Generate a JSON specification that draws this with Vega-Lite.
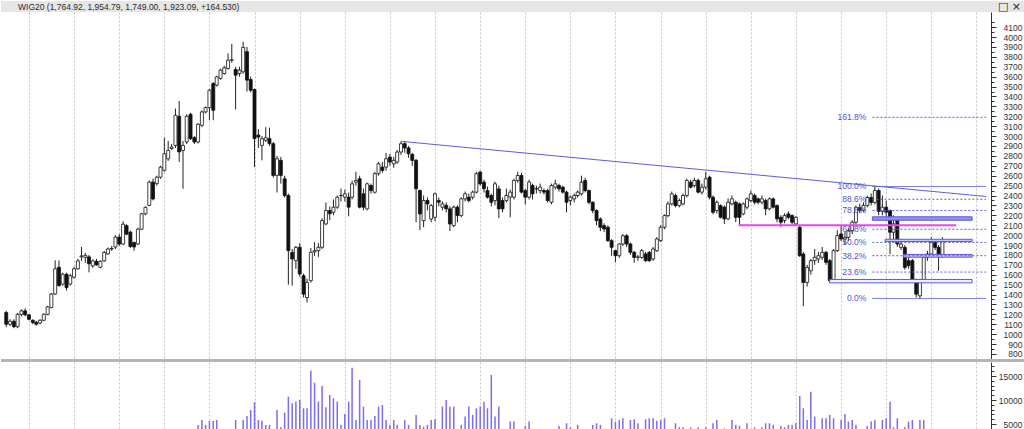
{
  "$schema": "https://vega.github.io/schema/vega-lite/v6.json",
  "padding": 0,
  "background": "white",
  "spacing": 0,
  "bounds": "flush",
  "config": {"view": {"stroke": null}, "font": "Liberation Sans", "axis": {"labelOverlap": false}},
  "datasets": {
    "wig": [
      {"d":"2002-07-01","o":1218,"h":1235,"l":1070,"c":1100,"v":1400},
      {"d":"2002-08-01","o":1100,"h":1150,"l":1080,"c":1130,"v":1300},
      {"d":"2002-09-01","o":1130,"h":1150,"l":1060,"c":1075,"v":1500},
      {"d":"2002-10-01","o":1075,"h":1215,"l":1060,"c":1200,"v":1700},
      {"d":"2002-11-01","o":1200,"h":1250,"l":1180,"c":1235,"v":1600},
      {"d":"2002-12-01","o":1235,"h":1260,"l":1180,"c":1195,"v":1400},
      {"d":"2003-01-01","o":1195,"h":1200,"l":1140,"c":1150,"v":1500},
      {"d":"2003-02-01","o":1140,"h":1150,"l":1100,"c":1118,"v":1300},
      {"d":"2003-03-01","o":1120,"h":1135,"l":1085,"c":1100,"v":1400},
      {"d":"2003-04-01","o":1113,"h":1150,"l":1100,"c":1140,"v":1600},
      {"d":"2003-05-01","o":1140,"h":1210,"l":1130,"c":1200,"v":1800},
      {"d":"2003-06-01","o":1200,"h":1285,"l":1190,"c":1275,"v":1900},
      {"d":"2003-07-01","o":1270,"h":1415,"l":1260,"c":1405,"v":2200},
      {"d":"2003-08-01","o":1405,"h":1745,"l":1395,"c":1660,"v":2600},
      {"d":"2003-09-01","o":1675,"h":1745,"l":1480,"c":1490,"v":2500},
      {"d":"2003-10-01","o":1505,"h":1620,"l":1490,"c":1605,"v":2300},
      {"d":"2003-11-01","o":1605,"h":1620,"l":1440,"c":1470,"v":2400},
      {"d":"2003-12-01","o":1505,"h":1610,"l":1490,"c":1590,"v":2000},
      {"d":"2004-01-01","o":1575,"h":1680,"l":1560,"c":1660,"v":2600},
      {"d":"2004-02-01","o":1660,"h":1760,"l":1650,"c":1740,"v":2700},
      {"d":"2004-03-01","o":1780,"h":1880,"l":1740,"c":1790,"v":2900},
      {"d":"2004-04-01","o":1775,"h":1820,"l":1720,"c":1795,"v":2500},
      {"d":"2004-05-01","o":1780,"h":1800,"l":1624,"c":1710,"v":2400},
      {"d":"2004-06-01","o":1690,"h":1755,"l":1670,"c":1740,"v":2100},
      {"d":"2004-07-01","o":1735,"h":1760,"l":1690,"c":1700,"v":2000},
      {"d":"2004-08-01","o":1675,"h":1745,"l":1665,"c":1735,"v":2100},
      {"d":"2004-09-01","o":1740,"h":1840,"l":1730,"c":1825,"v":2300},
      {"d":"2004-10-01","o":1810,"h":1875,"l":1800,"c":1860,"v":2400},
      {"d":"2004-11-01","o":1860,"h":1890,"l":1840,"c":1865,"v":2500},
      {"d":"2004-12-01","o":1880,"h":2000,"l":1860,"c":1980,"v":2300},
      {"d":"2005-01-01","o":1980,"h":2010,"l":1890,"c":1910,"v":2800},
      {"d":"2005-02-01","o":1910,"h":2140,"l":1900,"c":2110,"v":3000},
      {"d":"2005-03-01","o":2095,"h":2110,"l":2000,"c":2010,"v":2700},
      {"d":"2005-04-01","o":2030,"h":2045,"l":1870,"c":1885,"v":2600},
      {"d":"2005-05-01","o":1925,"h":1935,"l":1843,"c":1880,"v":2400},
      {"d":"2005-06-01","o":1910,"h":2075,"l":1900,"c":2060,"v":2500},
      {"d":"2005-07-01","o":2060,"h":2225,"l":2050,"c":2215,"v":2700},
      {"d":"2005-08-01","o":2215,"h":2290,"l":2200,"c":2280,"v":2600},
      {"d":"2005-09-01","o":2300,"h":2550,"l":2290,"c":2535,"v":3200},
      {"d":"2005-10-01","o":2535,"h":2570,"l":2350,"c":2365,"v":3400},
      {"d":"2005-11-01","o":2520,"h":2600,"l":2500,"c":2585,"v":2900},
      {"d":"2005-12-01","o":2585,"h":2700,"l":2570,"c":2687,"v":3000},
      {"d":"2006-01-01","o":2655,"h":2984,"l":2640,"c":2822,"v":3600},
      {"d":"2006-02-01","o":2770,"h":2950,"l":2750,"c":2855,"v":3300},
      {"d":"2006-03-01","o":2875,"h":2920,"l":2860,"c":2890,"v":3100},
      {"d":"2006-04-01","o":2906,"h":3278,"l":2880,"c":3210,"v":3500},
      {"d":"2006-05-01","o":3200,"h":3355,"l":2738,"c":2840,"v":3900},
      {"d":"2006-06-01","o":2855,"h":2950,"l":2468,"c":2906,"v":3700},
      {"d":"2006-07-01","o":2940,"h":3220,"l":2920,"c":3200,"v":3200},
      {"d":"2006-08-01","o":3220,"h":3235,"l":2960,"c":2974,"v":3400},
      {"d":"2006-09-01","o":2984,"h":3000,"l":2920,"c":2940,"v":3300},
      {"d":"2006-10-01","o":2940,"h":3130,"l":2925,"c":3119,"v":4800},
      {"d":"2006-11-01","o":3109,"h":3260,"l":3090,"c":3244,"v":5840},
      {"d":"2006-12-01","o":3244,"h":3300,"l":3230,"c":3288,"v":4800},
      {"d":"2007-01-01","o":3288,"h":3475,"l":3160,"c":3463,"v":5630},
      {"d":"2007-02-01","o":3531,"h":3545,"l":3160,"c":3261,"v":5630},
      {"d":"2007-03-01","o":3514,"h":3610,"l":3500,"c":3598,"v":5840},
      {"d":"2007-04-01","o":3582,"h":3680,"l":3570,"c":3666,"v":3500},
      {"d":"2007-05-01","o":3632,"h":3710,"l":3620,"c":3690,"v":3200},
      {"d":"2007-06-01","o":3683,"h":3835,"l":3670,"c":3767,"v":3800},
      {"d":"2007-07-01","o":3767,"h":3930,"l":3740,"c":3770,"v":3600},
      {"d":"2007-08-01","o":3673,"h":3700,"l":3268,"c":3615,"v":5840},
      {"d":"2007-09-01","o":3632,"h":3700,"l":3600,"c":3666,"v":3900},
      {"d":"2007-10-01","o":3649,"h":3953,"l":3630,"c":3895,"v":5840},
      {"d":"2007-11-01","o":3852,"h":3900,"l":3450,"c":3565,"v":6670},
      {"d":"2007-12-01","o":3571,"h":3600,"l":3440,"c":3463,"v":7930},
      {"d":"2008-01-01","o":3470,"h":3480,"l":2687,"c":2974,"v":9520},
      {"d":"2008-02-01","o":3010,"h":3070,"l":2880,"c":2990,"v":5840},
      {"d":"2008-03-01","o":2906,"h":3000,"l":2755,"c":2974,"v":5700},
      {"d":"2008-04-01","o":2958,"h":3090,"l":2940,"c":2984,"v":4800},
      {"d":"2008-05-01","o":2974,"h":3085,"l":2900,"c":2924,"v":4800},
      {"d":"2008-06-01","o":2923,"h":2940,"l":2580,"c":2603,"v":3900},
      {"d":"2008-07-01","o":2603,"h":2800,"l":2430,"c":2771,"v":7930},
      {"d":"2008-08-01","o":2755,"h":2790,"l":2520,"c":2603,"v":4320},
      {"d":"2008-09-01","o":2569,"h":2600,"l":2380,"c":2400,"v":7370},
      {"d":"2008-10-01","o":2400,"h":2420,"l":1500,"c":1843,"v":10700},
      {"d":"2008-11-01","o":1826,"h":1860,"l":1490,"c":1759,"v":9310},
      {"d":"2008-12-01","o":1742,"h":1890,"l":1660,"c":1877,"v":9700},
      {"d":"2009-01-01","o":1877,"h":1920,"l":1580,"c":1607,"v":10000},
      {"d":"2009-02-01","o":1590,"h":1610,"l":1370,"c":1404,"v":8270},
      {"d":"2009-03-01","o":1370,"h":1560,"l":1320,"c":1522,"v":8270},
      {"d":"2009-04-01","o":1540,"h":1870,"l":1520,"c":1826,"v":16100},
      {"d":"2009-05-01","o":1830,"h":1930,"l":1790,"c":1843,"v":13600},
      {"d":"2009-06-01","o":1843,"h":1920,"l":1780,"c":1877,"v":9660},
      {"d":"2009-07-01","o":1877,"h":2170,"l":1860,"c":2147,"v":12900},
      {"d":"2009-08-01","o":2113,"h":2330,"l":2100,"c":2248,"v":8480},
      {"d":"2009-09-01","o":2248,"h":2290,"l":2150,"c":2215,"v":11050},
      {"d":"2009-10-01","o":2231,"h":2360,"l":2200,"c":2282,"v":10350},
      {"d":"2009-11-01","o":2282,"h":2400,"l":2265,"c":2383,"v":9660},
      {"d":"2009-12-01","o":2400,"h":2470,"l":2340,"c":2400,"v":4800},
      {"d":"2010-01-01","o":2383,"h":2460,"l":2340,"c":2417,"v":7100},
      {"d":"2010-02-01","o":2383,"h":2430,"l":2190,"c":2282,"v":9660},
      {"d":"2010-03-01","o":2383,"h":2550,"l":2360,"c":2518,"v":16740},
      {"d":"2010-04-01","o":2535,"h":2640,"l":2500,"c":2552,"v":5840},
      {"d":"2010-05-01","o":2569,"h":2600,"l":2270,"c":2282,"v":14170},
      {"d":"2010-06-01","o":2417,"h":2470,"l":2250,"c":2282,"v":8620},
      {"d":"2010-07-01","o":2265,"h":2530,"l":2250,"c":2518,"v":5840},
      {"d":"2010-08-01","o":2501,"h":2520,"l":2420,"c":2450,"v":5840},
      {"d":"2010-09-01","o":2433,"h":2640,"l":2420,"c":2620,"v":6670},
      {"d":"2010-10-01","o":2620,"h":2740,"l":2600,"c":2720,"v":8620},
      {"d":"2010-11-01","o":2687,"h":2740,"l":2630,"c":2653,"v":8970},
      {"d":"2010-12-01","o":2687,"h":2830,"l":2650,"c":2771,"v":5840},
      {"d":"2011-01-01","o":2788,"h":2820,"l":2700,"c":2738,"v":4800},
      {"d":"2011-02-01","o":2720,"h":2790,"l":2680,"c":2755,"v":5840},
      {"d":"2011-03-01","o":2738,"h":2860,"l":2720,"c":2839,"v":4800},
      {"d":"2011-04-01","o":2839,"h":2947,"l":2810,"c":2923,"v":3900},
      {"d":"2011-05-01","o":2923,"h":2945,"l":2830,"c":2880,"v":5840},
      {"d":"2011-06-01","o":2880,"h":2900,"l":2780,"c":2822,"v":4800},
      {"d":"2011-07-01","o":2815,"h":2830,"l":2700,"c":2755,"v":3800},
      {"d":"2011-08-01","o":2755,"h":2770,"l":2130,"c":2468,"v":6890},
      {"d":"2011-09-01","o":2450,"h":2460,"l":2050,"c":2214,"v":4800},
      {"d":"2011-10-01","o":2146,"h":2400,"l":2080,"c":2349,"v":4460},
      {"d":"2011-11-01","o":2350,"h":2380,"l":2250,"c":2315,"v":4800},
      {"d":"2011-12-01","o":2163,"h":2315,"l":2130,"c":2298,"v":5840},
      {"d":"2012-01-01","o":2180,"h":2430,"l":2140,"c":2417,"v":5980},
      {"d":"2012-02-01","o":2350,"h":2380,"l":2290,"c":2332,"v":3900},
      {"d":"2012-03-01","o":2282,"h":2340,"l":2250,"c":2315,"v":8620},
      {"d":"2012-04-01","o":2300,"h":2330,"l":2230,"c":2265,"v":10000},
      {"d":"2012-05-01","o":2265,"h":2290,"l":2040,"c":2113,"v":8620},
      {"d":"2012-06-01","o":2096,"h":2300,"l":2080,"c":2282,"v":8620},
      {"d":"2012-07-01","o":2282,"h":2300,"l":2130,"c":2198,"v":3800},
      {"d":"2012-08-01","o":2197,"h":2380,"l":2180,"c":2366,"v":4800},
      {"d":"2012-09-01","o":2366,"h":2440,"l":2340,"c":2417,"v":6540},
      {"d":"2012-10-01","o":2383,"h":2420,"l":2330,"c":2349,"v":8620},
      {"d":"2012-11-01","o":2383,"h":2450,"l":2360,"c":2434,"v":6890},
      {"d":"2012-12-01","o":2434,"h":2640,"l":2420,"c":2620,"v":8270},
      {"d":"2013-01-01","o":2636,"h":2650,"l":2500,"c":2518,"v":8620},
      {"d":"2013-02-01","o":2535,"h":2560,"l":2430,"c":2468,"v":9660},
      {"d":"2013-03-01","o":2450,"h":2490,"l":2370,"c":2383,"v":8270},
      {"d":"2013-04-01","o":2400,"h":2420,"l":2290,"c":2332,"v":15210},
      {"d":"2013-05-01","o":2349,"h":2540,"l":2300,"c":2518,"v":6540},
      {"d":"2013-06-01","o":2467,"h":2500,"l":2170,"c":2265,"v":8620},
      {"d":"2013-07-01","o":2349,"h":2380,"l":2230,"c":2265,"v":3800},
      {"d":"2013-08-01","o":2349,"h":2470,"l":2330,"c":2400,"v":3600},
      {"d":"2013-09-01","o":2383,"h":2460,"l":2180,"c":2434,"v":5500},
      {"d":"2013-10-01","o":2383,"h":2570,"l":2360,"c":2552,"v":5500},
      {"d":"2013-11-01","o":2552,"h":2640,"l":2530,"c":2602,"v":3500},
      {"d":"2013-12-01","o":2602,"h":2630,"l":2420,"c":2434,"v":3800},
      {"d":"2014-01-01","o":2450,"h":2470,"l":2310,"c":2383,"v":4600},
      {"d":"2014-02-01","o":2383,"h":2560,"l":2360,"c":2535,"v":5500},
      {"d":"2014-03-01","o":2501,"h":2520,"l":2360,"c":2417,"v":3600},
      {"d":"2014-04-01","o":2468,"h":2500,"l":2420,"c":2468,"v":3300},
      {"d":"2014-05-01","o":2450,"h":2520,"l":2420,"c":2484,"v":3200},
      {"d":"2014-06-01","o":2450,"h":2470,"l":2410,"c":2434,"v":3400},
      {"d":"2014-07-01","o":2450,"h":2470,"l":2330,"c":2349,"v":3500},
      {"d":"2014-08-01","o":2332,"h":2520,"l":2310,"c":2501,"v":3700},
      {"d":"2014-09-01","o":2484,"h":2560,"l":2460,"c":2518,"v":3600},
      {"d":"2014-10-01","o":2501,"h":2520,"l":2440,"c":2468,"v":4600},
      {"d":"2014-11-01","o":2484,"h":2500,"l":2420,"c":2434,"v":3600},
      {"d":"2014-12-01","o":2434,"h":2450,"l":2230,"c":2332,"v":5150},
      {"d":"2015-01-01","o":2349,"h":2400,"l":2300,"c":2383,"v":4320},
      {"d":"2015-02-01","o":2366,"h":2420,"l":2330,"c":2400,"v":3800},
      {"d":"2015-03-01","o":2400,"h":2450,"l":2380,"c":2434,"v":4800},
      {"d":"2015-04-01","o":2417,"h":2600,"l":2400,"c":2535,"v":3500},
      {"d":"2015-05-01","o":2552,"h":2580,"l":2430,"c":2450,"v":3600},
      {"d":"2015-06-01","o":2450,"h":2460,"l":2310,"c":2332,"v":3700},
      {"d":"2015-07-01","o":2332,"h":2340,"l":2220,"c":2248,"v":4800},
      {"d":"2015-08-01","o":2248,"h":2260,"l":2100,"c":2147,"v":5150},
      {"d":"2015-09-01","o":2163,"h":2180,"l":2040,"c":2079,"v":4800},
      {"d":"2015-10-01","o":2096,"h":2120,"l":2030,"c":2062,"v":3600},
      {"d":"2015-11-01","o":2079,"h":2100,"l":1930,"c":1944,"v":3900},
      {"d":"2015-12-01","o":1944,"h":1960,"l":1790,"c":1877,"v":6190},
      {"d":"2016-01-01","o":1843,"h":1850,"l":1725,"c":1792,"v":5500},
      {"d":"2016-02-01","o":1792,"h":1920,"l":1770,"c":1910,"v":5840},
      {"d":"2016-03-01","o":1910,"h":2010,"l":1890,"c":1994,"v":6190},
      {"d":"2016-04-01","o":1994,"h":2010,"l":1880,"c":1910,"v":3800},
      {"d":"2016-05-01","o":1910,"h":1925,"l":1800,"c":1826,"v":5840},
      {"d":"2016-06-01","o":1826,"h":1840,"l":1720,"c":1775,"v":5980},
      {"d":"2016-07-01","o":1775,"h":1800,"l":1740,"c":1780,"v":5150},
      {"d":"2016-08-01","o":1775,"h":1860,"l":1760,"c":1843,"v":3900},
      {"d":"2016-09-01","o":1810,"h":1830,"l":1730,"c":1742,"v":5980},
      {"d":"2016-10-01","o":1826,"h":1840,"l":1730,"c":1742,"v":6190},
      {"d":"2016-11-01","o":1759,"h":1880,"l":1740,"c":1860,"v":6190},
      {"d":"2016-12-01","o":1843,"h":1980,"l":1830,"c":1961,"v":5700},
      {"d":"2017-01-01","o":1944,"h":2100,"l":1930,"c":2079,"v":5840},
      {"d":"2017-02-01","o":2079,"h":2210,"l":2060,"c":2197,"v":6190},
      {"d":"2017-03-01","o":2197,"h":2340,"l":2180,"c":2315,"v":3800},
      {"d":"2017-04-01","o":2315,"h":2440,"l":2300,"c":2417,"v":3900},
      {"d":"2017-05-01","o":2400,"h":2420,"l":2280,"c":2298,"v":5150},
      {"d":"2017-06-01","o":2298,"h":2370,"l":2280,"c":2349,"v":4320},
      {"d":"2017-07-01","o":2315,"h":2420,"l":2300,"c":2400,"v":4320},
      {"d":"2017-08-01","o":2400,"h":2570,"l":2380,"c":2552,"v":3900},
      {"d":"2017-09-01","o":2535,"h":2560,"l":2470,"c":2484,"v":4320},
      {"d":"2017-10-01","o":2501,"h":2580,"l":2480,"c":2552,"v":3800},
      {"d":"2017-11-01","o":2552,"h":2570,"l":2420,"c":2434,"v":4320},
      {"d":"2017-12-01","o":2434,"h":2520,"l":2410,"c":2484,"v":3500},
      {"d":"2018-01-01","o":2484,"h":2640,"l":2460,"c":2569,"v":4320},
      {"d":"2018-02-01","o":2585,"h":2600,"l":2360,"c":2383,"v":3800},
      {"d":"2018-03-01","o":2383,"h":2400,"l":2210,"c":2231,"v":5150},
      {"d":"2018-04-01","o":2248,"h":2350,"l":2220,"c":2332,"v":5840},
      {"d":"2018-05-01","o":2298,"h":2310,"l":2170,"c":2180,"v":3600},
      {"d":"2018-06-01","o":2282,"h":2300,"l":2113,"c":2164,"v":4100},
      {"d":"2018-07-01","o":2164,"h":2370,"l":2150,"c":2332,"v":3800},
      {"d":"2018-08-01","o":2316,"h":2400,"l":2300,"c":2366,"v":5840},
      {"d":"2018-09-01","o":2332,"h":2350,"l":2130,"c":2180,"v":4800},
      {"d":"2018-10-01","o":2315,"h":2330,"l":2097,"c":2180,"v":4600},
      {"d":"2018-11-01","o":2214,"h":2330,"l":2200,"c":2315,"v":3900},
      {"d":"2018-12-01","o":2282,"h":2380,"l":2260,"c":2366,"v":5150},
      {"d":"2019-01-01","o":2349,"h":2450,"l":2330,"c":2417,"v":3800},
      {"d":"2019-02-01","o":2400,"h":2420,"l":2310,"c":2332,"v":4320},
      {"d":"2019-03-01","o":2366,"h":2380,"l":2310,"c":2332,"v":3800},
      {"d":"2019-04-01","o":2332,"h":2400,"l":2310,"c":2366,"v":4320},
      {"d":"2019-05-01","o":2349,"h":2370,"l":2200,"c":2265,"v":5150},
      {"d":"2019-06-01","o":2265,"h":2380,"l":2250,"c":2366,"v":5150},
      {"d":"2019-07-01","o":2366,"h":2380,"l":2270,"c":2282,"v":4800},
      {"d":"2019-08-01","o":2298,"h":2310,"l":2130,"c":2164,"v":3900},
      {"d":"2019-09-01","o":2180,"h":2200,"l":2080,"c":2130,"v":4600},
      {"d":"2019-10-01","o":2147,"h":2220,"l":2120,"c":2197,"v":4320},
      {"d":"2019-11-01","o":2214,"h":2240,"l":2160,"c":2180,"v":4800},
      {"d":"2019-12-01","o":2197,"h":2210,"l":2110,"c":2130,"v":4800},
      {"d":"2020-01-01","o":2113,"h":2190,"l":2090,"c":2180,"v":5150},
      {"d":"2020-02-01","o":2079,"h":2100,"l":1780,"c":1792,"v":10840},
      {"d":"2020-03-01","o":1809,"h":1830,"l":1282,"c":1522,"v":8270},
      {"d":"2020-04-01","o":1522,"h":1700,"l":1480,"c":1674,"v":5840},
      {"d":"2020-05-01","o":1640,"h":1760,"l":1600,"c":1742,"v":11740},
      {"d":"2020-06-01","o":1742,"h":1860,"l":1700,"c":1776,"v":6540},
      {"d":"2020-07-01","o":1759,"h":1830,"l":1720,"c":1792,"v":3900},
      {"d":"2020-08-01","o":1776,"h":1880,"l":1750,"c":1826,"v":6190},
      {"d":"2020-09-01","o":1826,"h":1840,"l":1700,"c":1725,"v":6190},
      {"d":"2020-10-01","o":1742,"h":1760,"l":1520,"c":1540,"v":6890},
      {"d":"2020-11-01","o":1540,"h":1860,"l":1530,"c":1843,"v":6190},
      {"d":"2020-12-01","o":1843,"h":2050,"l":1830,"c":1995,"v":3800},
      {"d":"2021-01-01","o":2012,"h":2100,"l":1940,"c":1961,"v":5840},
      {"d":"2021-02-01","o":1961,"h":2030,"l":1900,"c":1978,"v":7100},
      {"d":"2021-03-01","o":1978,"h":2070,"l":1940,"c":2046,"v":5500},
      {"d":"2021-04-01","o":2046,"h":2150,"l":2010,"c":2130,"v":5840},
      {"d":"2021-05-01","o":2130,"h":2300,"l":2110,"c":2280,"v":4800},
      {"d":"2021-06-01","o":2280,"h":2320,"l":2220,"c":2250,"v":3800},
      {"d":"2021-07-01","o":2250,"h":2330,"l":2230,"c":2300,"v":3700},
      {"d":"2021-08-01","o":2300,"h":2400,"l":2280,"c":2380,"v":4600},
      {"d":"2021-09-01","o":2380,"h":2420,"l":2300,"c":2330,"v":5500},
      {"d":"2021-10-01","o":2330,"h":2491,"l":2310,"c":2450,"v":5840},
      {"d":"2021-11-01","o":2450,"h":2470,"l":2200,"c":2240,"v":3900},
      {"d":"2021-12-01","o":2240,"h":2400,"l":2200,"c":2282,"v":5840},
      {"d":"2022-01-01","o":2282,"h":2350,"l":2180,"c":2231,"v":6190},
      {"d":"2022-02-01","o":2248,"h":2260,"l":1809,"c":2029,"v":9660},
      {"d":"2022-03-01","o":2029,"h":2200,"l":1960,"c":2113,"v":4320},
      {"d":"2022-04-01","o":2164,"h":2180,"l":1880,"c":1910,"v":6190},
      {"d":"2022-05-01","o":1876,"h":1960,"l":1850,"c":1910,"v":3800},
      {"d":"2022-06-01","o":1876,"h":1900,"l":1650,"c":1674,"v":4320},
      {"d":"2022-07-01","o":1742,"h":1780,"l":1660,"c":1691,"v":5500},
      {"d":"2022-08-01","o":1742,"h":1760,"l":1520,"c":1539,"v":5840},
      {"d":"2022-09-01","o":1539,"h":1560,"l":1370,"c":1404,"v":3900},
      {"d":"2022-10-01","o":1387,"h":1560,"l":1360,"c":1539,"v":5840},
      {"d":"2022-11-01","o":1539,"h":1790,"l":1520,"c":1775,"v":5840},
      {"d":"2022-12-01","o":1775,"h":1840,"l":1740,"c":1809,"v":3600},
      {"d":"2023-01-01","o":1809,"h":1978,"l":1790,"c":1927,"v":3800},
      {"d":"2023-02-01","o":1927,"h":1960,"l":1850,"c":1876,"v":3500},
      {"d":"2023-03-01","o":1876,"h":1900,"l":1640,"c":1792,"v":3900},
      {"d":"2023-04-01","o":1792,"h":1978,"l":1770,"c":1944,"v":3400}
    ]
  },
  "vconcat": [
    {
      "width": 1024,
      "height": 11,
      "data": {"values": [
        {"t": "WIG20 (1,764.92, 1,954.79, 1,749.00, 1,923.09, +164.530)", "side": "left"},
        {"t": "□ ×", "side": "right"}
      ]},
      "view": {"fill": "#e6e6e6", "stroke": null},
      "encoding": {
        "x": {"field": "side", "type": "nominal", "scale": {"type": "point", "padding": 0, "domain": ["left", "right"], "range": [17, 1020]}, "axis": null},
        "text": {"field": "t"}
      },
      "layer": [
        {
          "transform": [{"filter": "datum.side === 'left'"}],
          "mark": {"type": "text", "align": "left", "baseline": "middle", "fontSize": 8.5, "color": "#2a2a2a", "font": "Liberation Sans"}
        },
        {
          "transform": [{"filter": "datum.side === 'right'"}],
          "mark": {"type": "text", "align": "right", "baseline": "middle", "fontSize": 11, "color": "#222222", "font": "DejaVu Sans"}
        }
      ]
    },
    {
      "width": 990,
      "height": 347,
      "resolve": {"axis": {"x": "independent", "y": "independent"}},
      "layer": [
        {
          "data": {"name": "wig"},
          "mark": {"type": "rule", "color": "#222222", "strokeWidth": 1},
          "encoding": {
            "x": {
              "field": "d", "type": "temporal",
              "scale": {"type": "utc", "domain": [{"year": 2002, "month": 6, "date": 29, "utc": true}, {"year": 2024, "month": 3, "date": 19, "utc": true}]},
              "axis": {"orient": "bottom", "labels": false, "ticks": false, "domain": false, "grid": true, "gridColor": "#c4c4c4", "gridDash": [2, 2], "gridWidth": 1, "tickCount": {"interval": "year", "step": 1}, "title": null}
            },
            "y": {
              "field": "l", "type": "quantitative",
              "scale": {"domain": [749, 4253], "nice": false, "zero": false},
              "axis": {
                "orient": "right", "title": null, "grid": false,
                "values": [800,850,900,950,1000,1050,1100,1150,1200,1250,1300,1350,1400,1450,1500,1550,1600,1650,1700,1750,1800,1850,1900,1950,2000,2050,2100,2150,2200,2250,2300,2350,2400,2450,2500,2550,2600,2650,2700,2750,2800,2850,2900,2950,3000,3050,3100,3150,3200,3250,3300,3350,3400,3450,3500,3550,3600,3650,3700,3750,3800,3850,3900,3950,4000,4050,4100,4150],
                "labelExpr": "datum.value % 100 === 0 ? '' + datum.value : ''",
                "tickSize": {"condition": {"test": "datum.value % 100 === 0", "value": 5}, "value": 3},
                "labelAlign": "right", "labelPadding": 26, "labelFontSize": 8.5, "labelColor": "#333333",
                "labelFont": "Liberation Sans", "domainColor": "#333333", "tickColor": "#333333", "labelBound": false, "labelOverlap": false
              }
            },
            "y2": {"field": "h"}
          }
        },
        {
          "data": {"name": "wig"},
          "mark": {"type": "bar", "width": 3, "stroke": "#111111", "strokeWidth": 0.8},
          "encoding": {
            "x": {"field": "d", "type": "temporal", "axis": null},
            "y": {"field": "o", "type": "quantitative", "axis": null},
            "y2": {"field": "c"},
            "fill": {"condition": {"test": "datum.c < datum.o", "value": "#111111"}, "value": "#ffffff"}
          }
        },
        {
          "data": {"values": [{"d": "2011-04-01", "p": 2947}, {"d": "2024-03-19", "p": 2390}]},
          "mark": {"type": "line", "color": "#5b5be3", "strokeWidth": 1},
          "encoding": {
            "x": {"field": "d", "type": "temporal", "axis": null},
            "y": {"field": "p", "type": "quantitative", "axis": null}
          }
        },
        {
          "data": {"values": [{"d1": "2018-09-25", "d2": "2023-07-22", "p": 2100}]},
          "mark": {"type": "rule", "color": "#ee44ee", "strokeWidth": 2},
          "encoding": {
            "x": {"field": "d1", "type": "temporal", "axis": null},
            "x2": {"field": "d2"},
            "y": {"field": "p", "type": "quantitative", "axis": null}
          }
        },
        {
          "data": {"values": [
            {"d1": "2021-09-11", "d2": "2023-11-28", "p1": 2150, "p2": 2185, "kind": "a"},
            {"d1": "2021-12-23", "d2": "2023-11-28", "p1": 1935, "p2": 1958, "kind": "b"},
            {"d1": "2022-05-21", "d2": "2023-11-28", "p1": 1777, "p2": 1805, "kind": "b"},
            {"d1": "2020-10-01", "d2": "2023-11-28", "p1": 1518, "p2": 1552, "kind": "c"}
          ]},
          "mark": {"type": "rect", "stroke": "#5a5ae0", "strokeWidth": 1},
          "encoding": {
            "x": {"field": "d1", "type": "temporal", "axis": null},
            "x2": {"field": "d2"},
            "y": {"field": "p1", "type": "quantitative", "axis": null},
            "y2": {"field": "p2"},
            "fill": {"field": "kind", "type": "nominal", "scale": {"domain": ["a", "b", "c"], "range": ["#9292ea", "#c4c4f6", "#eeeefc"]}, "legend": null}
          }
        },
        {
          "data": {"values": [
            {"t": "161.8%", "p": 3190}, {"t": "100.0%", "p": 2491}, {"t": "88.6%", "p": 2362},
            {"t": "78.6%", "p": 2249}, {"t": "61.8%", "p": 2059}, {"t": "50.0%", "p": 1926},
            {"t": "38.2%", "p": 1792}, {"t": "23.6%", "p": 1627}, {"t": "0.0%", "p": 1360}
          ]},
          "mark": {"type": "rule", "color": "#5a5ae0", "strokeWidth": 1},
          "encoding": {
            "x": {"datum": {"year": 2021, "month": 9, "date": 11, "utc": true}, "type": "temporal", "axis": null},
            "x2": {"datum": {"year": 2024, "month": 3, "date": 19, "utc": true}},
            "y": {"field": "p", "type": "quantitative", "axis": null},
            "strokeDash": {"condition": {"test": "datum.t === '0.0%' || datum.t === '100.0%'", "value": [1, 0]}, "value": [2, 2]}
          }
        },
        {
          "data": {"values": [
            {"t": "161.8%", "p": 3190}, {"t": "100.0%", "p": 2491}, {"t": "88.6%", "p": 2362},
            {"t": "78.6%", "p": 2249}, {"t": "61.8%", "p": 2059}, {"t": "50.0%", "p": 1926},
            {"t": "38.2%", "p": 1792}, {"t": "23.6%", "p": 1627}, {"t": "0.0%", "p": 1360}
          ]},
          "mark": {"type": "text", "align": "right", "baseline": "middle", "fontSize": 8.5, "color": "#5050d8", "font": "Liberation Sans"},
          "encoding": {
            "x": {"datum": {"year": 2021, "month": 7, "date": 24, "utc": true}, "type": "temporal", "axis": null},
            "y": {"field": "p", "type": "quantitative", "axis": null},
            "text": {"field": "t"}
          }
        }
      ]
    },
    {
      "width": 1024,
      "height": 3,
      "data": {"values": [{}]},
      "mark": {"type": "rule", "opacity": 0},
      "encoding": {},
      "view": {"fill": "#b4b4b4", "stroke": null}
    },
    {
      "width": 990,
      "height": 86,
      "data": {"name": "wig"},
      "mark": {"type": "bar", "width": 1.5, "color": "#7b6cf0"},
      "encoding": {
        "x": {
          "field": "d", "type": "temporal",
          "scale": {"type": "utc", "domain": [{"year": 2002, "month": 6, "date": 29, "utc": true}, {"year": 2024, "month": 3, "date": 19, "utc": true}]},
          "axis": {"orient": "bottom", "labels": false, "ticks": false, "domain": false, "grid": true, "gridColor": "#c4c4c4", "gridDash": [2, 2], "gridWidth": 1, "tickCount": {"interval": "year", "step": 1}, "title": null}
        },
        "y": {
          "field": "v", "type": "quantitative",
          "scale": {"domain": [0, 17917], "nice": false},
          "axis": {
            "orient": "right", "title": null, "grid": false,
            "values": [1000,2000,3000,4000,5000,6000,7000,8000,9000,10000,11000,12000,13000,14000,15000,16000,17000],
            "labelExpr": "datum.value % 5000 === 0 ? '' + datum.value : ''",
            "tickSize": {"condition": {"test": "datum.value % 5000 === 0", "value": 5}, "value": 3},
            "labelAlign": "right", "labelPadding": 26, "labelFontSize": 8.5, "labelColor": "#333333",
            "labelFont": "Liberation Sans", "domainColor": "#333333", "tickColor": "#333333", "labelBound": false, "labelOverlap": false
          }
        }
      }
    }
  ]
}
